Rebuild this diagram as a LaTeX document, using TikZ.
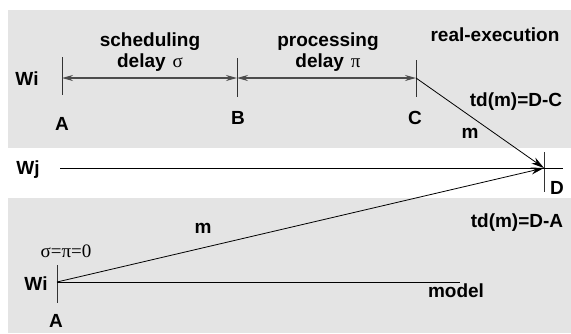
\documentclass[tikz,border=0pt]{standalone}
\usepackage{fontspec}
\setmainfont{Liberation Sans}
\newfontfamily\greekfont{Liberation Serif}
\usetikzlibrary{arrows.meta,positioning}
\definecolor{bandgray}{HTML}{E4E4E4}

\begin{document}
\begin{tikzpicture}[
        x=1pt, y={(0pt,-1pt)},
        every node/.style={inner sep=0pt, font=\fontsize{19}{21.5}\selectfont\bfseries},
        band/.style={fill=bandgray, draw=none},
        tick/.style={draw=black!80, line width=0.9pt},
        dim/.style={draw=black!70, line width=1.3pt, {Stealth[length=11pt,width=6pt]}-{Stealth[length=11pt,width=6pt]}},
        msg/.style={draw=black, line width=0.8pt, -{Stealth[length=13pt,width=7pt]}},
        lane/.style={draw=black, line width=0.8pt},
        greek/.style={font=\fontsize{19}{21.5}\selectfont\greekfont}
    ]
    \useasboundingbox (0,0) rectangle (571,333);

    % Bands
    \fill[band] (8,10) rectangle (571,148);
    \fill[band] (8,198) rectangle (571,333);

    % Time points
    \coordinate (A) at (62,78);
    \coordinate (B) at (237,78);
    \coordinate (C) at (416,78);
    \coordinate (D) at (544,168);
    \coordinate (wjStart) at (60,168);
    \coordinate (wjEnd) at (563,168);
    \coordinate (A0) at (57,282);
    \coordinate (wiEnd) at (460,282);

    % Ticks
    \draw[tick] ([yshift=21pt]A) -- ([yshift=-17pt]A);
    \draw[tick] ([yshift=20pt]B) -- ([yshift=-19pt]B);
    \draw[tick] ([yshift=18pt]C) -- ([yshift=-19pt]C);
    \draw[tick] ([yshift=16pt]D) -- ([yshift=-24pt]D);
    \draw[tick] ([yshift=17pt]A0) -- ([yshift=-21pt]A0);

    % Real execution
    \draw[dim] (A) -- (B);
    \draw[dim] (B) -- (C);
    \draw[lane] (wjStart) -- (wjEnd);
    \draw[msg] (C) -- (D);

    % Model
    \draw[lane] (A0) -- (wiEnd);
    \draw[msg] (A0) -- (D);

    % Labels
    \node (wiTop) at (27,79) {Wi};
    \node (wj) at (28,170) {Wj};
    \node (wiBot) at (36,284) {Wi};
    \node (lblA) at (62,124) {A};
    \node (lblB) at (238,118) {B};
    \node (lblC) at (415,118) {C};
    \node (lblD) at (557,188) {D};
    \node (lblA0) at (56,321) {A};
    \node[align=center] (sched) at (150,52) {scheduling\\delay\hspace{7pt}{\greekfont\mdseries σ}};
    \node[align=center] (proc) at (328,52) {processing\\delay\hspace{7pt}{\greekfont\mdseries π}};
    \node (real) at (495,35) {real-execution};
    \node (tdC) at (516,102) {td(m)=D-C};
    \node (mTop) at (470,133) {m};
    \node (tdA) at (517,223) {td(m)=D-A};
    \node (mBot) at (203,228) {m};
    \node[greek] (zero) at (66,251) {σ=π=0};
    \node (model) at (456,291) {model};

\end{tikzpicture}
\end{document}
